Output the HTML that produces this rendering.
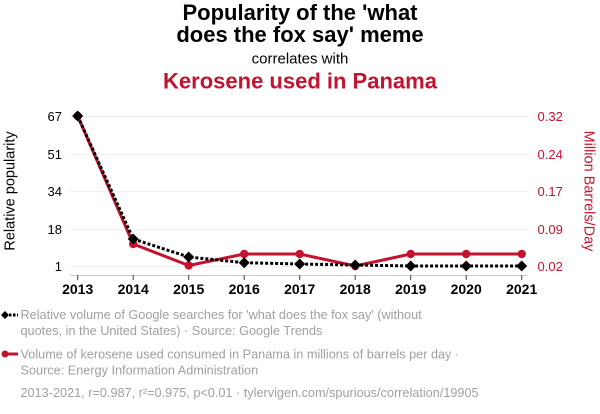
<!DOCTYPE html>
<html><head><meta charset="utf-8"><style>
html,body{margin:0;padding:0;background:#fff;}
svg{display:block;font-family:"Liberation Sans",Arial,sans-serif;}
</style></head><body>
<svg width="600" height="414" viewBox="0 0 600 414" xmlns="http://www.w3.org/2000/svg">
<rect width="600" height="414" fill="#fff"/>
<text x="300" y="20" text-anchor="middle" font-size="22" font-weight="bold" fill="#000">Popularity of the 'what</text>
<text x="300" y="42" text-anchor="middle" font-size="22" font-weight="bold" fill="#000">does the fox say' meme</text>
<text x="300" y="63.5" text-anchor="middle" font-size="15" fill="#000">correlates with</text>
<text x="300" y="88.5" text-anchor="middle" font-size="22" font-weight="bold" fill="#c2132f">Kerosene used in Panama</text>

<g stroke="#efefef" stroke-width="1">
<line x1="70" x2="528" y1="116.5" y2="116.5"/>
<line x1="70" x2="528" y1="154.5" y2="154.5"/>
<line x1="70" x2="528" y1="191.5" y2="191.5"/>
<line x1="70" x2="528" y1="229.5" y2="229.5"/>
<line x1="70" x2="528" y1="266.5" y2="266.5"/>
</g>
<line x1="70" x2="528" y1="275.5" y2="275.5" stroke="#ccc" stroke-width="1"/>
<g stroke="#444" stroke-width="1">
<line x1="77.7" x2="77.7" y1="275" y2="280"/>
<line x1="133.2" x2="133.2" y1="275" y2="280"/>
<line x1="188.7" x2="188.7" y1="275" y2="280"/>
<line x1="244.2" x2="244.2" y1="275" y2="280"/>
<line x1="299.7" x2="299.7" y1="275" y2="280"/>
<line x1="355.2" x2="355.2" y1="275" y2="280"/>
<line x1="410.7" x2="410.7" y1="275" y2="280"/>
<line x1="466.2" x2="466.2" y1="275" y2="280"/>
<line x1="521.7" x2="521.7" y1="275" y2="280"/>
</g>
<g font-size="14" font-weight="bold" text-anchor="middle" fill="#000">
<text x="77.7" y="294">2013</text>
<text x="133.2" y="294">2014</text>
<text x="188.7" y="294">2015</text>
<text x="244.2" y="294">2016</text>
<text x="299.7" y="294">2017</text>
<text x="355.2" y="294">2018</text>
<text x="410.7" y="294">2019</text>
<text x="466.2" y="294">2020</text>
<text x="521.7" y="294">2021</text>
</g>
<g font-size="13" text-anchor="end" fill="#000">
<text x="62" y="121">67</text>
<text x="62" y="159">51</text>
<text x="62" y="196">34</text>
<text x="62" y="234">18</text>
<text x="62" y="271">1</text>
</g>
<g font-size="13" fill="#c2132f">
<text x="537.5" y="121">0.32</text>
<text x="537.5" y="159">0.24</text>
<text x="537.5" y="196">0.17</text>
<text x="537.5" y="234">0.09</text>
<text x="537.5" y="271">0.02</text>
</g>
<text transform="translate(14.5,191) rotate(-90)" text-anchor="middle" font-size="14.5" fill="#000">Relative popularity</text>
<text transform="translate(584.5,191) rotate(90)" text-anchor="middle" font-size="14.5" fill="#c2132f">Million Barrels/Day</text>

<polyline fill="none" stroke="#c2132f" stroke-width="3" stroke-linejoin="round" points="77.7,116 133.2,244 188.7,265.5 244.2,254 299.7,254 355.2,266 410.7,254 466.2,254 521.7,254"/>
<g fill="#c2132f">
<circle cx="77.7" cy="116" r="4.2"/>
<circle cx="133.2" cy="244" r="4.2"/>
<circle cx="188.7" cy="265.5" r="4.2"/>
<circle cx="244.2" cy="254" r="4.2"/>
<circle cx="299.7" cy="254" r="4.2"/>
<circle cx="355.2" cy="266" r="4.2"/>
<circle cx="410.7" cy="254" r="4.2"/>
<circle cx="466.2" cy="254" r="4.2"/>
<circle cx="521.7" cy="254" r="4.2"/>
</g>
<polyline fill="none" stroke="#000" stroke-width="3" stroke-dasharray="3,2" points="77.7,116 133.2,239 188.7,257 244.2,262.7 299.7,264 355.2,265 410.7,266 466.2,266 521.7,266"/>
<g fill="#000">
<polygon points="77.7,110.5 83.2,116 77.7,121.5 72.2,116"/>
<polygon points="133.2,233.5 138.7,239 133.2,244.5 127.7,239"/>
<polygon points="188.7,251.5 194.2,257 188.7,262.5 183.2,257"/>
<polygon points="244.2,257.2 249.7,262.7 244.2,268.2 238.7,262.7"/>
<polygon points="299.7,258.5 305.2,264 299.7,269.5 294.2,264"/>
<polygon points="355.2,259.5 360.7,265 355.2,270.5 349.7,265"/>
<polygon points="410.7,260.5 416.2,266 410.7,271.5 405.2,266"/>
<polygon points="466.2,260.5 471.7,266 466.2,271.5 460.7,266"/>
<polygon points="521.7,260.5 527.2,266 521.7,271.5 516.2,266"/>
</g>

<line x1="5" x2="18" y1="315" y2="315" stroke="#000" stroke-width="3" stroke-dasharray="2.5,1.5"/>
<polygon points="5,311 9,315 5,319 1,315" fill="#000"/>
<line x1="5" x2="18" y1="354" y2="354" stroke="#c2132f" stroke-width="3"/>
<circle cx="5" cy="354" r="3.5" fill="#c2132f"/>
<g font-size="12.7" fill="#a0a0a0">
<text x="20.5" y="319">Relative volume of Google searches for 'what does the fox say' (without</text>
<text x="20.5" y="335">quotes, in the United States) · Source: Google Trends</text>
<text x="20.5" y="358.5">Volume of kerosene used consumed in Panama in millions of barrels per day ·</text>
<text x="20.5" y="374.5">Source: Energy Information Administration</text>
<text x="20.5" y="397">2013-2021, r=0.987, r²=0.975, p&lt;0.01 · tylervigen.com/spurious/correlation/19905</text>
</g>
</svg>
</body></html>
